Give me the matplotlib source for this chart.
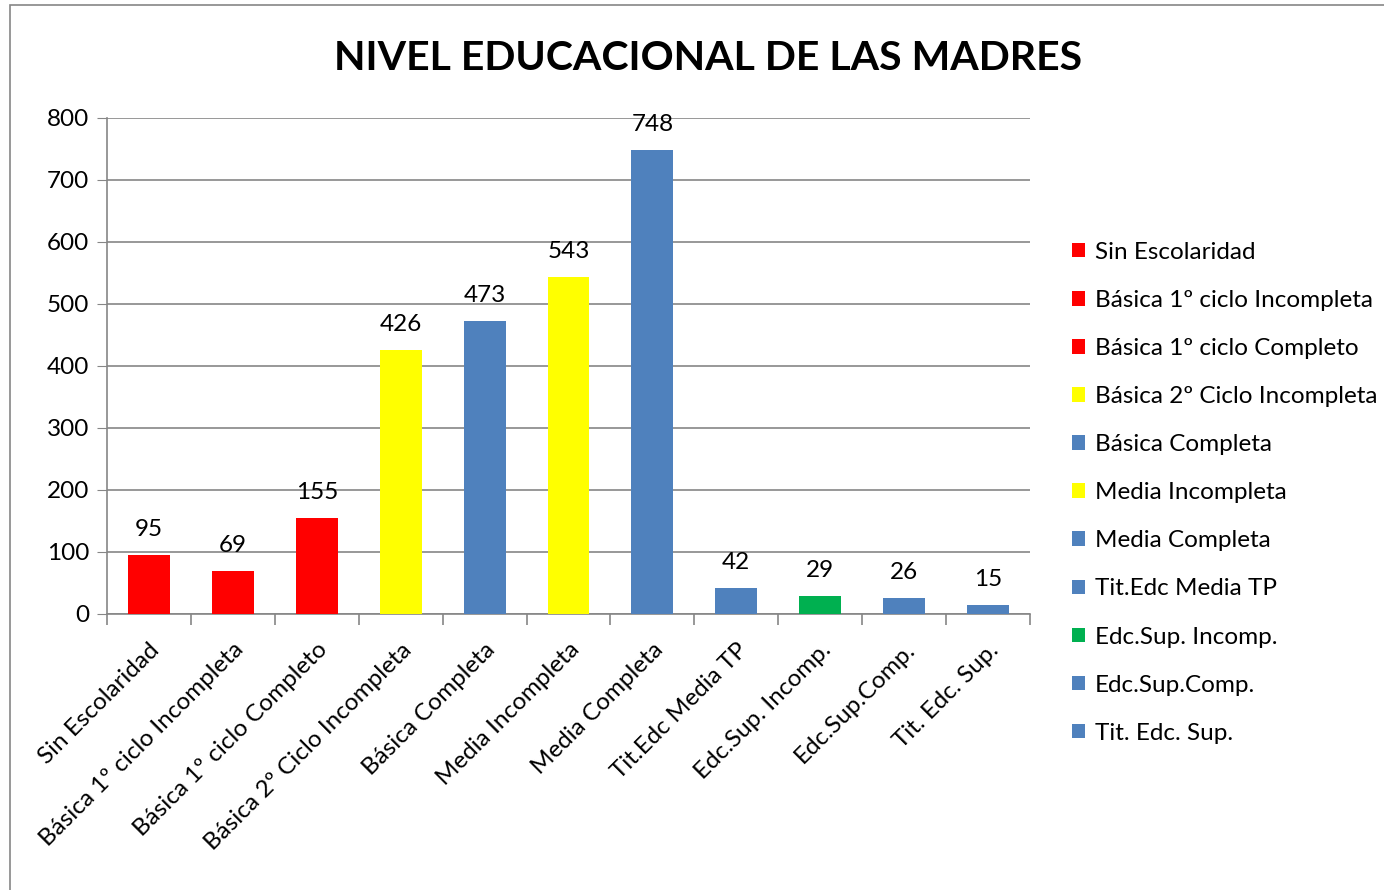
import matplotlib.pyplot as plt
from matplotlib.patches import Rectangle, Patch
import numpy as np

plt.rcParams['font.family'] = ['Lato', 'DejaVu Sans']

categories = ["Sin Escolaridad", "Básica 1º ciclo Incompleta", "Básica 1º ciclo Completo",
              "Básica 2º Ciclo Incompleta", "Básica Completa", "Media Incompleta",
              "Media Completa", "Tit.Edc Media TP", "Edc.Sup. Incomp.", "Edc.Sup.Comp.",
              "Tit. Edc. Sup."]
values = [95, 69, 155, 426, 473, 543, 748, 42, 29, 26, 15]
colors = ["#FF0000", "#FF0000", "#FF0000", "#FFFF00", "#4F81BD", "#FFFF00",
          "#4F81BD", "#4F81BD", "#00B050", "#4F81BD", "#4F81BD"]

W, H = 1384, 890
fig = plt.figure(figsize=(W/100, H/100), dpi=100)
ax = fig.add_axes([107/W, 1-614/H, (1030-107)/W, (614-118)/H])

x = np.arange(len(values))
ax.bar(x, values, width=0.5, color=colors, zorder=3)
for xi, v in zip(x, values):
    ax.text(xi, v + 24, str(v), ha="center", va="bottom", fontsize=17.5)

ax.set_xlim(-0.5, len(values) - 0.5)
ax.set_ylim(0, 800)
ax.set_yticks(range(0, 801, 100))
ax.tick_params(axis="y", labelsize=17.5, length=7, color="#868686", pad=6)
ax.yaxis.grid(True, color="#868686", linewidth=1.2, zorder=0)

ax.set_xticks(x)
ax.set_xticklabels(categories, rotation=45, ha="right", rotation_mode="anchor", fontsize=17.5)
ax.tick_params(axis="x", length=0, pad=18)
ax.set_xticks(np.arange(-0.5, len(values)), minor=True)
ax.tick_params(axis="x", which="minor", length=8, color="#868686", width=1.2)

for s in ["top", "right"]:
    ax.spines[s].set_visible(False)
for s in ["left", "bottom"]:
    ax.spines[s].set_color("#868686")
    ax.spines[s].set_linewidth(1.2)

fig.text(708/W, 1-58/H, "NIVEL EDUCACIONAL DE LAS MADRES", ha="center", va="center",
         fontsize=29.5, fontweight="bold")

handles = [Patch(facecolor=c, label=l) for c, l in zip(colors, categories)]
fig.legend(handles=handles, loc="upper left", bbox_to_anchor=(1062/W, 1-232/H),
           frameon=False, fontsize=17.5, handlelength=0.55, handleheight=0.55,
           handletextpad=0.4, labelspacing=1.115, borderaxespad=0)

fig.patches.append(Rectangle((10/W, -0.1), 1.5, 1.1-5/H, transform=fig.transFigure,
                             fill=False, edgecolor="#868686", linewidth=1.2))

fig.savefig("out.png", dpi=100)
